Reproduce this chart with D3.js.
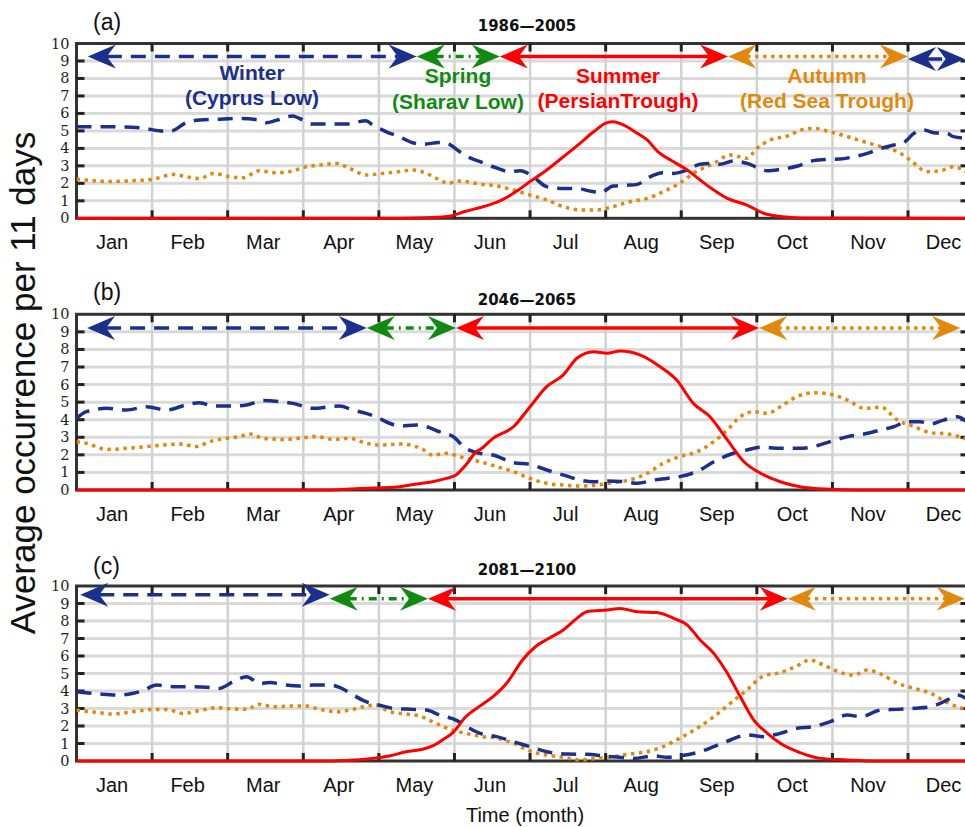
<!DOCTYPE html>
<html>
<head>
<meta charset="utf-8">
<script src="https://cdn.jsdelivr.net/npm/d3@7/dist/d3.min.js"></script>
<style>
  body { margin: 0; background: #fff; }
  svg { display: block; font-family: "Liberation Sans", Arial, sans-serif; }
</style>
</head>
<body>
<svg id="chart"></svg>
<script>
// ---- data (x in months since 1 Jan, y = occurrences per 11 days) ----
const months = ['Jan', 'Feb', 'Mar', 'Apr', 'May', 'Jun', 'Jul', 'Aug', 'Sep', 'Oct', 'Nov', 'Dec'];
const yTicks = [0, 1, 2, 3, 4, 5, 6, 7, 8, 9, 10];
const periods = ['1986\u20142005', '2046\u20142065', '2081\u20142100'];
const panelTags = ['(a)', '(b)', '(c)'];
const seasonNames = ['Winter', 'Spring', 'Summer', 'Autumn'];
const seasonSystems = ['(Cyprus Low)', '(Sharav Low)', '(PersianTrough)', '(Red Sea Trough)'];

// season arrows: boundaries (months) and the season of each span
const seasonBoundsA = [0.15, 4.5, 5.6, 8.62, 11.0, 11.75];
const seasonOrderA = ['Winter', 'Spring', 'Summer', 'Autumn', 'Winter'];
const arrowLevelA = [9.25, 9.25, 9.25, 9.25, 9.12];
const seasonBoundsB = [0.14, 3.84, 5.02, 9.03, 11.69];
const seasonOrderB = ['Winter', 'Spring', 'Summer', 'Autumn'];
const arrowLevelB = [9.22, 9.22, 9.22, 9.22];
const seasonBoundsC = [0.05, 3.35, 4.65, 9.41, 11.75];
const seasonOrderC = ['Winter', 'Spring', 'Summer', 'Autumn'];
const arrowLevelC = [9.5, 9.27, 9.27, 9.27];

const cyprusA = [[0,5.24],[0.48,5.24],[0.84,5.18],[1.15,4.99],[1.25,5.0],[1.45,5.47],[1.63,5.62],[1.85,5.66],[2.16,5.71],[2.42,5.62],[2.51,5.47],[2.64,5.6],[2.86,5.85],[2.95,5.71],[3.13,5.39],[3.35,5.39],[3.57,5.39],[3.83,5.58],[3.92,5.33],[4.1,4.95],[4.27,4.67],[4.45,4.32],[4.58,4.23],[4.8,4.34],[4.9,4.29],[5.07,3.81],[5.2,3.47],[5.34,3.24],[5.51,2.95],[5.74,2.67],[5.87,2.72],[6.04,2.38],[6.22,1.81],[6.44,1.71],[6.62,1.71],[6.79,1.56],[6.93,1.47],[7.1,1.85],[7.28,1.89],[7.42,1.94],[7.55,2.29],[7.76,2.61],[7.9,2.57],[8.08,2.76],[8.25,3.09],[8.43,3.14],[8.51,3.09],[8.69,3.28],[8.87,3.14],[9.14,2.72],[9.31,2.8],[9.54,2.99],[9.75,3.3],[9.93,3.37],[10.1,3.39],[10.28,3.52],[10.46,3.71],[10.64,4.0],[10.81,4.19],[10.94,4.32],[11.08,4.86],[11.21,5.05],[11.34,4.9],[11.52,4.86],[11.6,4.67],[11.8,4.57]];
const redSeaA = [[0,2.23],[0.13,2.19],[0.4,2.1],[0.75,2.15],[1.01,2.23],[1.28,2.51],[1.45,2.38],[1.63,2.27],[1.81,2.57],[2.03,2.38],[2.2,2.32],[2.42,2.72],[2.64,2.61],[2.82,2.67],[3.04,2.95],[3.22,3.05],[3.44,3.14],[3.61,2.86],[3.83,2.48],[4.05,2.57],[4.27,2.67],[4.45,2.76],[4.63,2.57],[4.76,2.29],[4.93,2.0],[5.02,2.13],[5.15,2.1],[5.34,1.95],[5.56,1.85],[5.78,1.62],[6.0,1.33],[6.22,1.05],[6.44,0.67],[6.66,0.48],[6.88,0.48],[7.1,0.67],[7.32,0.95],[7.55,1.14],[7.76,1.52],[7.98,2.0],[8.16,2.57],[8.43,3.14],[8.65,3.62],[8.87,3.43],[9.0,4.0],[9.18,4.48],[9.4,4.7],[9.62,5.09],[9.75,5.14],[9.97,4.95],[10.2,4.67],[10.42,4.38],[10.64,4.1],[10.86,3.81],[11.03,3.33],[11.25,2.67],[11.43,2.72],[11.6,2.95],[11.8,2.57]];
const persianA = [[0,0],[4.0,0],[4.6,0.03],[4.9,0.1],[5.15,0.4],[5.34,0.62],[5.47,0.78],[5.65,1.1],[5.78,1.43],[6.0,2.1],[6.22,2.76],[6.44,3.52],[6.66,4.29],[6.84,4.95],[7.02,5.47],[7.1,5.52],[7.24,5.33],[7.42,4.86],[7.55,4.48],[7.69,3.81],[7.86,3.33],[8.08,2.76],[8.25,2.19],[8.43,1.62],[8.61,1.14],[8.87,0.76],[9.09,0.29],[9.31,0.1],[9.6,0.02],[11.8,0]];

const cyprusB = [[0,4.08],[0.13,4.46],[0.4,4.65],[0.66,4.55],[0.93,4.74],[1.19,4.55],[1.45,4.84],[1.63,4.97],[1.81,4.78],[2.07,4.78],[2.25,4.84],[2.47,5.09],[2.69,5.03],[2.86,4.93],[3.13,4.65],[3.35,4.74],[3.48,4.78],[3.66,4.55],[3.83,4.36],[3.96,4.17],[4.14,3.8],[4.27,3.64],[4.5,3.7],[4.63,3.6],[4.8,3.32],[4.98,3.04],[5.15,2.37],[5.29,2.13],[5.51,1.99],[5.78,1.56],[6.0,1.46],[6.22,1.14],[6.48,0.8],[6.66,0.57],[6.84,0.47],[7.02,0.51],[7.24,0.47],[7.42,0.38],[7.64,0.57],[7.81,0.66],[7.98,0.76],[8.25,1.14],[8.43,1.61],[8.69,2.09],[8.87,2.28],[9.05,2.43],[9.31,2.37],[9.57,2.37],[9.75,2.47],[9.97,2.75],[10.2,3.04],[10.42,3.19],[10.64,3.42],[10.81,3.6],[10.99,3.89],[11.16,3.89],[11.3,3.76],[11.47,3.98],[11.65,4.17],[11.8,3.8]];
const redSeaB = [[0,2.75],[0.13,2.66],[0.4,2.31],[0.66,2.37],[0.93,2.47],[1.15,2.56],[1.37,2.62],[1.59,2.47],[1.76,2.75],[1.98,2.94],[2.16,3.04],[2.29,3.19],[2.47,2.94],[2.73,2.88],[2.95,2.94],[3.17,3.04],[3.39,2.88],[3.61,2.94],[3.83,2.66],[4.05,2.56],[4.27,2.62],[4.41,2.56],[4.58,2.31],[4.71,1.99],[4.89,2.09],[5.07,1.9],[5.24,1.71],[5.34,1.61],[5.56,1.33],[5.78,1.04],[6.0,0.66],[6.22,0.38],[6.44,0.28],[6.66,0.23],[6.88,0.28],[7.1,0.42],[7.32,0.57],[7.55,0.95],[7.76,1.52],[7.98,1.9],[8.21,2.18],[8.43,2.75],[8.61,3.42],[8.78,4.17],[8.96,4.46],[9.14,4.36],[9.31,4.74],[9.53,5.31],[9.75,5.54],[9.97,5.45],[10.2,5.12],[10.42,4.65],[10.64,4.71],[10.86,3.98],[11.08,3.61],[11.3,3.26],[11.52,3.19],[11.8,2.85]];
const persianB = [[0,0],[3.3,0],[3.83,0.1],[4.19,0.15],[4.5,0.34],[4.71,0.47],[4.89,0.66],[5.02,0.85],[5.15,1.42],[5.29,2.18],[5.34,2.3],[5.51,2.94],[5.78,3.6],[6.0,4.74],[6.22,5.88],[6.44,6.55],[6.62,7.5],[6.84,7.87],[7.02,7.78],[7.19,7.91],[7.46,7.68],[7.72,7.02],[7.94,6.26],[8.16,4.93],[8.38,4.17],[8.61,2.85],[8.83,1.61],[9.05,0.95],[9.31,0.47],[9.57,0.19],[9.97,0.04],[10.3,0],[11.8,0]];

const cyprusC = [[0,3.96],[0.31,3.83],[0.57,3.77],[0.75,3.87],[0.88,4.02],[1.06,4.34],[1.28,4.25],[1.5,4.25],[1.72,4.21],[1.89,4.15],[2.07,4.53],[2.25,4.82],[2.42,4.44],[2.56,4.48],[2.78,4.34],[2.95,4.29],[3.13,4.34],[3.35,4.34],[3.48,4.21],[3.66,3.77],[3.83,3.39],[4.0,3.2],[4.19,3.01],[4.45,2.95],[4.63,2.91],[4.8,2.63],[5.02,2.34],[5.24,1.77],[5.34,1.58],[5.56,1.39],[5.78,1.1],[6.0,0.82],[6.22,0.53],[6.48,0.4],[6.75,0.38],[6.97,0.29],[7.19,0.21],[7.37,0.15],[7.64,0.29],[7.81,0.21],[7.98,0.29],[8.25,0.53],[8.43,0.82],[8.65,1.2],[8.87,1.49],[9.09,1.39],[9.31,1.58],[9.53,1.87],[9.75,1.96],[9.97,2.25],[10.2,2.63],[10.37,2.53],[10.64,2.91],[10.86,2.95],[11.08,3.01],[11.3,3.1],[11.52,3.49],[11.65,3.77],[11.8,3.49]];
const redSeaC = [[0,2.91],[0.31,2.76],[0.48,2.69],[0.75,2.82],[1.01,2.95],[1.19,2.95],[1.41,2.72],[1.63,2.88],[1.85,3.05],[2.07,2.97],[2.25,2.95],[2.42,3.24],[2.6,3.1],[2.86,3.14],[3.04,3.14],[3.22,2.95],[3.44,2.82],[3.66,2.95],[3.83,3.14],[3.96,3.2],[4.14,2.82],[4.36,2.69],[4.54,2.57],[4.71,2.25],[4.93,1.83],[5.15,1.58],[5.34,1.41],[5.56,1.3],[5.78,1.01],[6.0,0.57],[6.22,0.34],[6.44,0.21],[6.66,0.06],[6.88,0.15],[7.1,0.25],[7.32,0.4],[7.55,0.53],[7.76,0.82],[7.98,1.3],[8.21,1.87],[8.43,2.53],[8.65,3.3],[8.87,4.06],[9.09,4.86],[9.31,5.05],[9.53,5.43],[9.7,5.77],[9.88,5.49],[10.11,5.05],[10.28,4.91],[10.46,5.2],[10.64,4.97],[10.86,4.44],[11.08,4.15],[11.3,3.87],[11.52,3.33],[11.8,2.91]];
const persianC = [[0,0],[3.3,0],[3.66,0.06],[3.92,0.15],[4.14,0.29],[4.36,0.53],[4.58,0.67],[4.71,0.86],[4.84,1.2],[4.98,1.62],[5.15,2.53],[5.34,3.15],[5.51,3.68],[5.69,4.44],[5.9,5.77],[6.07,6.53],[6.25,7.01],[6.44,7.49],[6.62,8.15],[6.75,8.53],[7.02,8.63],[7.19,8.72],[7.42,8.53],[7.68,8.48],[7.9,8.15],[8.08,7.77],[8.25,6.91],[8.43,6.15],[8.61,5.01],[8.78,3.68],[8.96,2.34],[9.14,1.58],[9.31,1.01],[9.57,0.48],[9.84,0.15],[10.2,0.06],[10.5,0],[11.8,0]];

// ---- styles ----
const colors = { Winter: '#1b2f8c', Spring: '#128a12', Summer: '#ff0000', Autumn: '#e2880c' };
const dashes = { Winter: '15,9', Spring: '8,5,2,5', Summer: null, Autumn: '3.5,4.5' };

const width = 965, height = 827;
const svg = d3.select('#chart').attr('width', width).attr('height', height);

const x = d3.scaleLinear().domain([0, 11.8]).range([76.5, 968.5]);

const panels = [
  { top: 43.5, bottom: 218.3, tag: panelTags[0], period: periods[0], tagY: 30, titleY: 31,
    bounds: seasonBoundsA, order: seasonOrderA, levels: arrowLevelA,
    cyprus: cyprusA, redSea: redSeaA, persian: persianA, notes: true },
  { top: 314.3, bottom: 490, tag: panelTags[1], period: periods[1], tagY: 300, titleY: 305,
    bounds: seasonBoundsB, order: seasonOrderB, levels: arrowLevelB,
    cyprus: cyprusB, redSea: redSeaB, persian: persianB, notes: false },
  { top: 586, bottom: 761, tag: panelTags[2], period: periods[2], tagY: 574, titleY: 575,
    bounds: seasonBoundsC, order: seasonOrderC, levels: arrowLevelC,
    cyprus: cyprusC, redSea: redSeaC, persian: persianC, notes: false }
];

function headPath(tx, ty, dir) {
  const L = 28, W = 12, N = 19;
  return `M${tx},${ty} L${tx - dir * L},${ty - W} L${tx - dir * N},${ty} L${tx - dir * L},${ty + W} Z`;
}

panels.forEach((p, pi) => {
  const y = d3.scaleLinear().domain([0, 10]).range([p.bottom, p.top]);
  const g = svg.append('g');
  const x0 = x.range()[0], x1 = x.range()[1];

  g.append('clipPath').attr('id', 'clip' + pi)
    .append('rect').attr('x', x0).attr('y', p.top - 20).attr('width', x1 - x0).attr('height', p.bottom - p.top + 24);

  // grid
  g.selectAll('.hg').data(yTicks.slice(1, 10)).enter().append('line')
    .attr('x1', x0).attr('x2', x1).attr('y1', d => y(d)).attr('y2', d => y(d))
    .attr('stroke', '#dadada').attr('stroke-width', 3);
  g.selectAll('.vg').data(d3.range(1, 12)).enter().append('line')
    .attr('x1', d => x(d)).attr('x2', d => x(d)).attr('y1', p.top).attr('y2', p.bottom)
    .attr('stroke', '#d2d2d2').attr('stroke-width', 2.5);

  // frame
  g.append('rect').attr('x', x0).attr('y', p.top).attr('width', x1 - x0).attr('height', p.bottom - p.top)
    .attr('fill', 'none').attr('stroke', '#333').attr('stroke-width', 3);

  // ticks
  d3.range(1, 12).forEach(m => {
    g.append('line').attr('x1', x(m)).attr('x2', x(m)).attr('y1', p.top).attr('y2', p.top + 8)
      .attr('stroke', '#222').attr('stroke-width', 3);
    g.append('line').attr('x1', x(m)).attr('x2', x(m)).attr('y1', p.bottom).attr('y2', p.bottom - 8)
      .attr('stroke', '#222').attr('stroke-width', 3);
  });
  yTicks.slice(1, 10).forEach(t => {
    g.append('line').attr('x1', x0).attr('x2', x0 + 8).attr('y1', y(t)).attr('y2', y(t))
      .attr('stroke', '#222').attr('stroke-width', 3);
    g.append('line').attr('x1', x1).attr('x2', x1 - 8).attr('y1', y(t)).attr('y2', y(t))
      .attr('stroke', '#222').attr('stroke-width', 3);
  });

  // tick labels
  g.selectAll('.yl').data(yTicks).enter().append('text')
    .attr('x', x0 - 7).attr('y', d => y(d) + 5)
    .attr('text-anchor', 'end').attr('font-family', '"DejaVu Serif", serif').attr('font-size', 14.5)
    .attr('fill', '#222').text(d => d);
  g.selectAll('.ml').data(months).enter().append('text')
    .attr('x', (d, i) => x(i + 0.47)).attr('y', p.bottom + 31)
    .attr('text-anchor', 'middle').attr('font-size', 20).attr('fill', '#111').text(d => d);

  // tag & title
  g.append('text').attr('x', 93).attr('y', p.tagY).attr('font-size', 23).attr('fill', '#111').text(p.tag);
  g.append('text').attr('x', 527).attr('y', p.titleY).attr('text-anchor', 'middle')
    .attr('font-family', '"DejaVu Sans", sans-serif').attr('font-weight', 'bold').attr('font-size', 15)
    .attr('fill', '#111').text(p.period);

  // curves
  const line = d3.line().x(d => x(d[0])).y(d => y(d[1])).curve(d3.curveMonotoneX);
  const cg = g.append('g').attr('clip-path', `url(#clip${pi})`);
  cg.append('path').attr('d', line(p.redSea)).attr('fill', 'none')
    .attr('stroke', colors.Autumn).attr('stroke-width', 3.5).attr('stroke-dasharray', dashes.Autumn);
  cg.append('path').attr('d', line(p.cyprus)).attr('fill', 'none')
    .attr('stroke', colors.Winter).attr('stroke-width', 3.5).attr('stroke-dasharray', dashes.Winter);
  cg.append('path').attr('d', line(p.persian)).attr('fill', 'none')
    .attr('stroke', colors.Summer).attr('stroke-width', 3);

  // season arrows
  const ag = g.append('g').attr('clip-path', `url(#clip${pi})`);
  p.order.forEach((s, i) => {
    const xa = x(p.bounds[i]), xb = x(p.bounds[i + 1]), ya = y(p.levels[i]);
    ag.append('line').attr('x1', xa + 19).attr('x2', xb - 19).attr('y1', ya).attr('y2', ya)
      .attr('stroke', colors[s]).attr('stroke-width', 3.5)
      .attr('stroke-dasharray', dashes[s]);
    ag.append('path').attr('d', headPath(xa, ya, -1)).attr('fill', colors[s]);
    ag.append('path').attr('d', headPath(xb, ya, 1)).attr('fill', colors[s]);
  });

  // season names (top panel only)
  if (p.notes) {
    const labelPos = [[252, 80, 105], [458, 83, 109], [618, 83, 108], [827, 83, 108]];
    seasonNames.forEach((s, i) => {
      const lp = labelPos[i];
      g.append('text').attr('x', lp[0]).attr('y', lp[1]).attr('text-anchor', 'middle')
        .attr('font-weight', 'bold').attr('font-size', 21).attr('fill', colors[s]).text(s);
      g.append('text').attr('x', lp[0]).attr('y', lp[2]).attr('text-anchor', 'middle')
        .attr('font-weight', 'bold').attr('font-size', 21).attr('fill', colors[s]).text(seasonSystems[i]);
    });
  }
});

// axis titles
svg.append('text').attr('transform', 'translate(35,383) rotate(-90)')
  .attr('text-anchor', 'middle').attr('font-size', 35).attr('fill', '#111')
  .text('Average occurrence per 11 days');
svg.append('text').attr('x', 525).attr('y', 822).attr('text-anchor', 'middle')
  .attr('font-size', 20).attr('fill', '#111').text('Time (month)');
</script>
</body>
</html>
